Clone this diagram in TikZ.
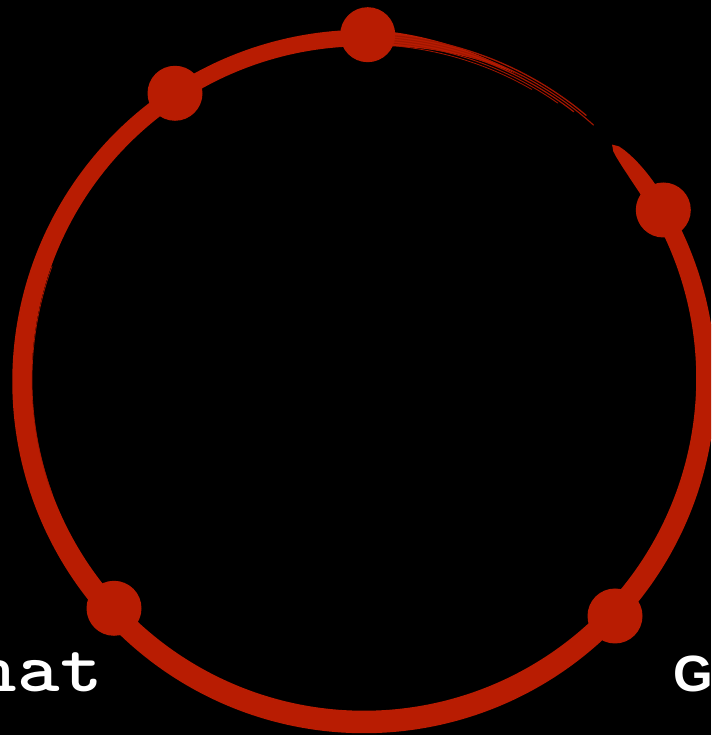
\documentclass[tikz,border=0pt]{standalone}
\usepackage{fontspec}
\newfontfamily\sansfam{Liberation Sans}
\definecolor{brushred}{RGB}{184,28,2}
\definecolor{streakred}{RGB}{160,22,0}
\begin{document}
\begin{tikzpicture}[x=1pt,y=1pt,
  declare function={
    tin(\t)=sqrt(max(0,1-(1-min(\t,10)/10)^2));
    tout(\t)=min(1,max(0,(340-\t)/25));
    wd(\t)=(19.5-3*sin(43.5-\t))*tin(\t)*tout(\t);
  },
  dot/.style={circle, fill=brushred, inner sep=0pt, minimum size=55pt},
  streak/.style={draw=streakred, line cap=round},
  label/.style={anchor=base west, inner sep=0pt, text=white}]
\useasboundingbox (0,0) rectangle (711,735);
\fill[black] (0,0) rectangle (711,735);
\clip (0,0) rectangle (711,735);
% brush circle
\fill[brushred] plot[domain=0:341, samples=342, variable=\t]
  ({364+(342+wd(\t)/2)*cos(43.5-\t)},{355+(342+wd(\t)/2)*sin(43.5-\t)})
  -- plot[domain=341:0, samples=342, variable=\t]
  ({364+(342-wd(\t)/2)*cos(43.5-\t)},{355+(342-wd(\t)/2)*sin(43.5-\t)}) -- cycle;
% dry brush streaks
\draw[streak, line width=1.3pt] ([shift={(364,355)}]92:345.5) arc[start angle=92, end angle=50, radius=345.5];
\draw[streak, line width=1.1pt] ([shift={(364,355)}]90:343) arc[start angle=90, end angle=48, radius=343];
\draw[streak, line width=1.2pt] ([shift={(364,355)}]88:340.5) arc[start angle=88, end angle=52, radius=340.5];
\draw[streak, line width=0.9pt] ([shift={(364,355)}]86:338) arc[start angle=86, end angle=55, radius=338];
\draw[streak, line width=0.8pt] ([shift={(364,355)}]84:335.5) arc[start angle=84, end angle=60, radius=335.5];
\draw[streak, line width=0.7pt] ([shift={(364,355)}]160:332) arc[start angle=160, end angle=200, radius=332];
% dots
\node[dot] (d1) at (367.7,700.3) {};
\node[dot] (d2) at (175,641.7) {};
\node[dot] (d3) at (663.3,525) {};
\node[dot] (d4) at (114,126.7) {};
\node[dot] (d5) at (615,119) {};
% labels
\node[label, xscale=1.157, font=\ttfamily\bfseries\fontsize{70}{70}\selectfont] (hat) at (-25.25,43.3) {hat};
\node[label, font=\sansfam\bfseries\fontsize{51}{51}\selectfont] (g) at (673,43) {G};
\end{tikzpicture}
\end{document}
